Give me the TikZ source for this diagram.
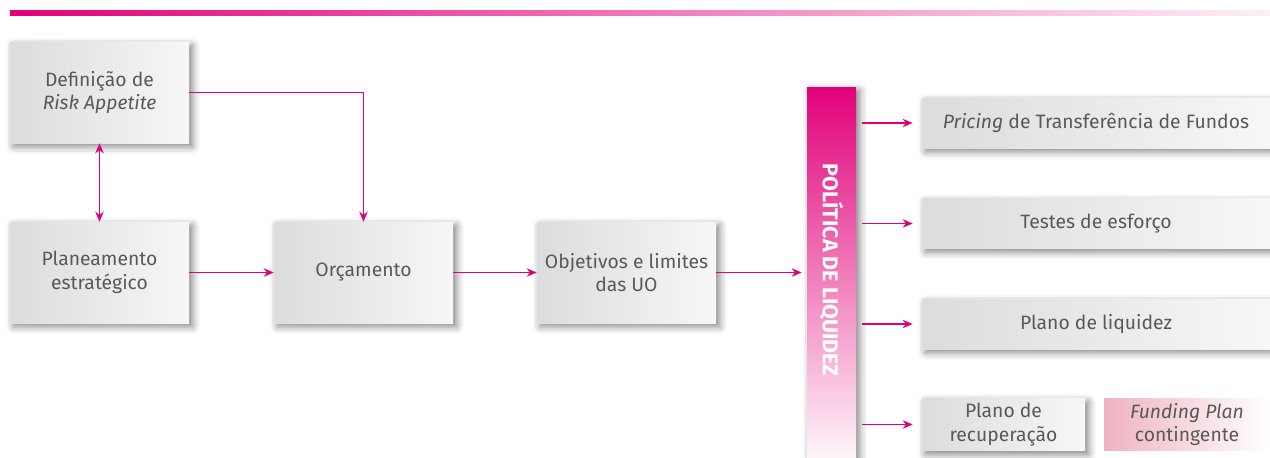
\documentclass[tikz,border=0pt]{standalone}
\usepackage{fontspec}
\setmainfont{Fira Sans}
\usetikzlibrary{arrows.meta,shadows.blur}

\definecolor{mag}{HTML}{E2007A}
\definecolor{txtgray}{HTML}{58595B}
\definecolor{boxgray}{HTML}{DBDCDD}
\definecolor{boxwhite}{HTML}{F7F7F7}
\definecolor{fundpink}{HTML}{EFB3C0}

\begin{document}
\begin{tikzpicture}
[
font=\fontsize{11}{13.5}\selectfont,
every node/.style ={text=txtgray, align=center, inner sep=1mm},
shd/.style={blur shadow={shadow xshift=0.07cm, shadow yshift=-0.07cm, shadow opacity=50, shadow blur radius=0.8ex}},
L1/.style={rectangle, left color=boxgray, right color=boxwhite, shd, minimum width=3.58cm, minimum height=2.02cm},
L2/.style={rectangle, left color=boxgray, right color=boxwhite, shd, minimum width=6.96cm, minimum height=1.0cm},
L3/.style={rectangle, left color=boxgray, right color=boxwhite, shd, minimum width=3.26cm, minimum height=0.98cm},
fund/.style={rectangle, left color=fundpink, right color=white, minimum width=3.32cm, minimum height=0.98cm},
polbar/.style={rectangle, top color=mag, bottom color=mag!4, shd, minimum width=0.98cm, minimum height=7.4cm},
poltext/.style={text=white, font=\fontsize{12.2}{14}\bfseries, rotate=-90},
arr/.style={mag, line width=0.7pt, -{Stealth[length=2mm, width=1.7mm]}},
],
%
\useasboundingbox (0,0) rectangle (25.4,9.14);
\shade [left color=mag, middle color=mag!55, right color=mag!6] (0.2,8.826) rectangle (25.4,8.94);

\node [L1]  (RA)   at ( 1.99, 7.29)  {Definição de\\\textit{Risk Appetite}};
\node [L1]  (PE)   at ( 1.99, 3.69)  {Planeamento\\estratégico};
\node [L1]  (OR)   at ( 7.27, 3.69)  {Orçamento};
\node [L1]  (OB)   at (12.53, 3.69)  {Objetivos e limites\\das UO};
%
\node [polbar]  (PL)   at (16.63, 3.70)  {};
\node [poltext] (PLT)  at (16.63, 3.74)  {POLÍTICA DE LIQUIDEZ};
%
\node [L2]  (PR)   at (21.92, 6.68)  {\textit{Pricing} de Transferência de Fundos};
\node [L2]  (TE)   at (21.92, 4.67)  {Testes de esforço};
\node [L2]  (LQ)   at (21.92, 2.66)  {Plano de liquidez};
\node [L3]  (RC)   at (20.07, 0.65)  {Plano de\\recuperação};
\node [fund]  (FP)   at (23.74, 0.65)  {\textit{Funding Plan}\\contingente};
%
\draw [arr, {Stealth[length=2mm, width=1.7mm]}-{Stealth[length=2mm, width=1.7mm]}]  (RA.south) -- (PE.north) ;
\draw [arr]  (RA.east) -| (OR.north) ;
\draw [arr]  (PE.east) -- (OR.west) ;
\draw [arr]  (OR.east) -- (OB.west) ;
\draw [arr, shorten >=0.1cm]  (OB.east) -- (OB.east -| PL.west) ;
%
\draw [arr, shorten <=0.12cm, shorten >=0.18cm]  (PL.east |- PR.west) -- (PR.west) ;
\draw [arr, shorten <=0.12cm, shorten >=0.18cm]  (PL.east |- TE.west) -- (TE.west) ;
\draw [arr, shorten <=0.12cm, shorten >=0.18cm]  (PL.east |- LQ.west) -- (LQ.west) ;
\draw [arr, shorten <=0.12cm, shorten >=0.18cm]  (PL.east |- RC.west) -- (RC.west) ;
%
\end{tikzpicture}
\end{document}
